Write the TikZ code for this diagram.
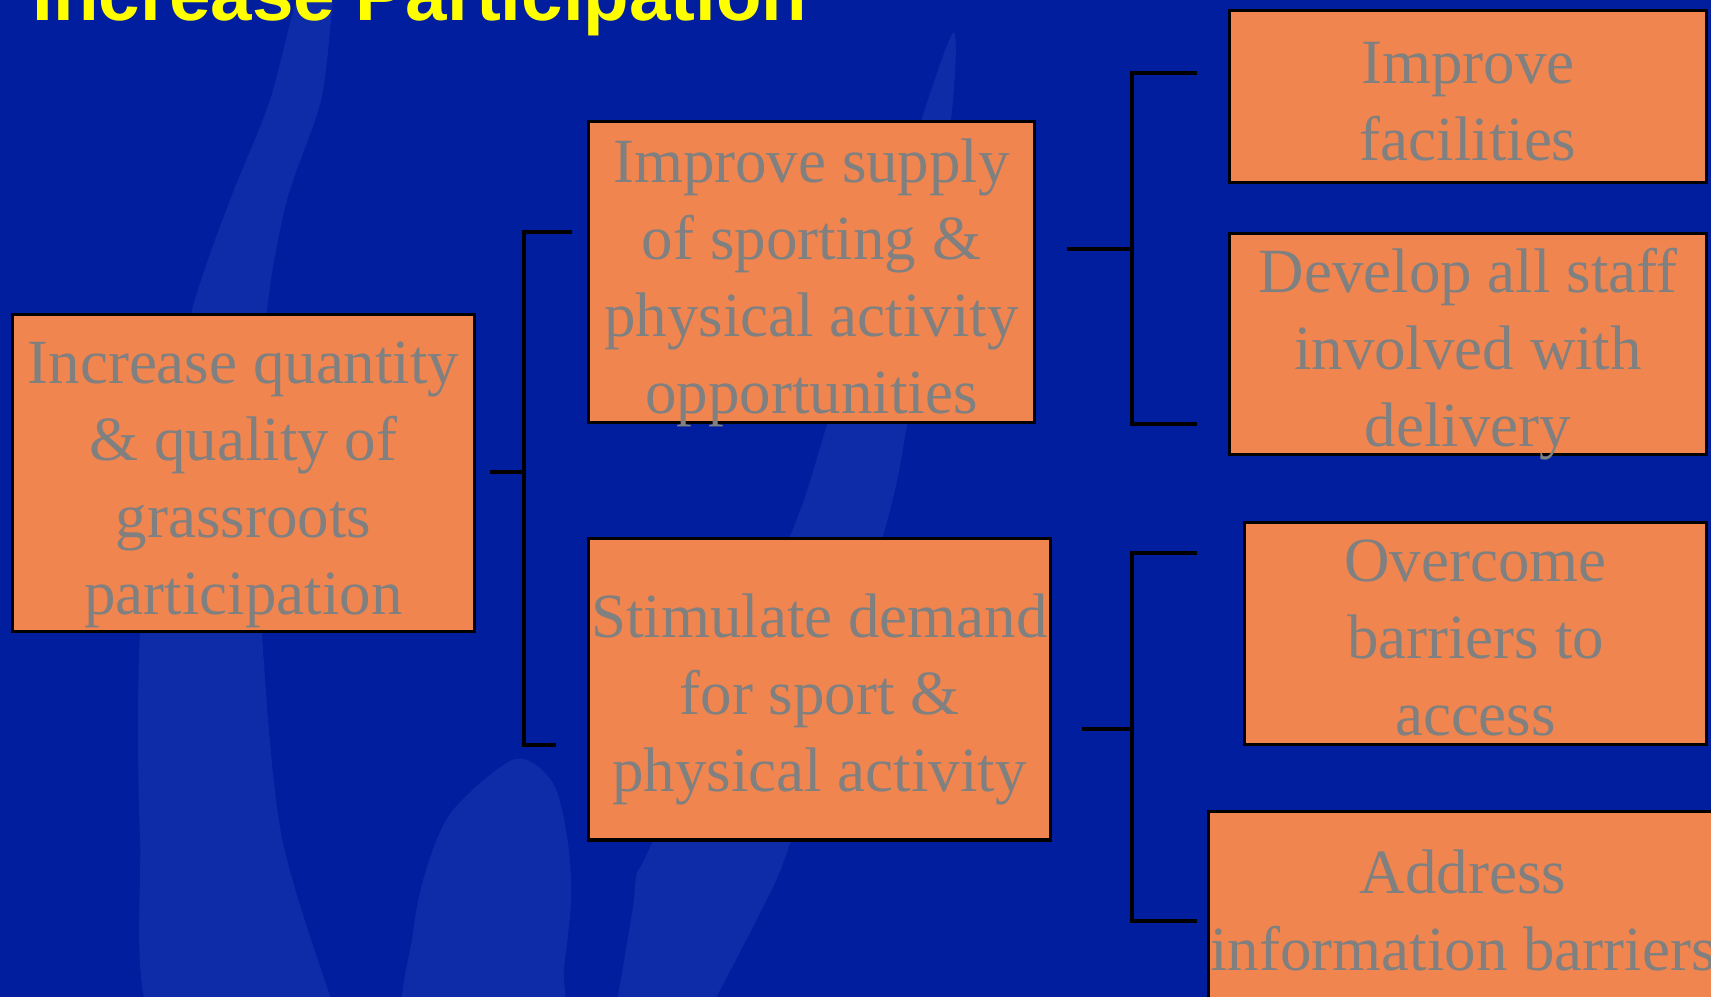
\documentclass[tikz,border=0pt]{standalone}
\usepackage{fontspec}
\setmainfont{Liberation Serif}
\newfontfamily\titlefont{Liberation Sans}
\usetikzlibrary{positioning}
\definecolor{slidebg}{RGB}{0,30,158}
\definecolor{swirlblue}{RGB}{14,44,168}
\definecolor{boxorange}{RGB}{240,133,80}
\definecolor{boxtext}{RGB}{128,128,128}
\definecolor{titleyellow}{RGB}{255,255,0}

\begin{document}
\begin{tikzpicture}[
    x=0.01cm, y=-0.01cm,
    goal/.style={rectangle, draw=black, line width=0.9pt, fill=boxorange, text=boxtext,
      inner sep=0pt, align=center, font=\fontsize{17.9}{21.9}\selectfont, text depth=0pt},
    twolines/.style={text height=1.28cm},
    threelines/.style={text height=2.05cm},
    fourlines/.style={text height=2.82cm},
    link/.style={draw=black, line width=0.9pt},
    swirl/.style={fill=swirlblue}
]
    % Slide background
    \useasboundingbox (0,0) rectangle (1711,996);
    \fill[slidebg] (-20,-20) rectangle (1731,1016);
    \fill[swirl] plot[smooth cycle, tension=0.5] coordinates {(306,-30) (337,-30) (333,0) (321,100) (287,200)
      (267,310) (258,470) (262,633) (281,833) (330,996) (345,1030) (158,1030) (140,833) (140,633)
      (160,460) (192,310) (230,200) (270,100)};
    \fill[swirl] plot[smooth cycle, tension=0.5] coordinates {(515,759) (553,783) (568,843) (571,900)
      (564,967) (553,1030) (410,1030) (413,933) (427,867) (453,810)};
    \fill[swirl] plot[smooth cycle, tension=0.4] coordinates {(954,32) (951,119) (907,425) (883,536)
      (790,843) (763,907) (717,996) (700,1030) (612,1030) (618,996) (633,907) (637,873) (652,843)
      (790,536) (827,425) (923,115)};

    % Title
    \node[anchor=base west, inner sep=0pt, text=titleyellow,
      font=\titlefont\bfseries\fontsize{21.2}{25}\selectfont] (title) at (32,20) {Increase Participation};

    % Goals
    \node[goal, fourlines, minimum width=4.62cm, minimum height=3.17cm] (quantity) at (243.5,473)
      {Increase quantity\\ \& quality of\\ grassroots\\ participation};
    \node[goal, fourlines, minimum width=4.46cm, minimum height=3.01cm] (supply) at (811.5,272)
      {Improve supply\\ of sporting \&\\ physical activity\\ opportunities};
    \node[goal, threelines, minimum width=4.62cm, minimum height=3.01cm, below=1.13cm of supply.south west,
      anchor=north west] (demand) {Stimulate demand\\ for sport \&\\ physical activity};

    % Actions
    \node[goal, twolines, minimum width=4.77cm, minimum height=1.72cm] (facilities) at (1468,96.5)
      {Improve\\ facilities};
    \node[goal, threelines, minimum width=4.77cm, minimum height=2.21cm, below=0.48cm of facilities] (staff)
      {Develop all staff\\ involved with\\ delivery};
    \node[goal, threelines, minimum width=4.62cm, minimum height=2.22cm, below=0.64cm of staff.south east,
      anchor=north east] (barriers) {Overcome\\ barriers to\\ access};
    \node[goal, twolines, minimum width=5.09cm, minimum height=1.90cm, below=0.64cm of barriers.south west,
      anchor=north west, xshift=-0.36cm] (info) {Address\\ information barriers};

    % Brackets
    \coordinate (quantityfork) at (524,472);
    \coordinate (quantityup) at (572,232);
    \coordinate (quantitydn) at (556,745);
    \draw[link] ([xshift=0.14cm]quantity.east |- quantityfork) -- (quantityfork);
    \draw[link] (quantityup) -- (quantityup -| quantityfork) -- (quantitydn -| quantityfork) -- (quantitydn);

    \coordinate (supplyfork) at (1132,249);
    \coordinate (supplyup) at (1197,73);
    \coordinate (supplydn) at (1197,424);
    \draw[link] ([xshift=0.31cm]supply.east |- supplyfork) -- (supplyfork);
    \draw[link] (supplyup) -- (supplyup -| supplyfork) -- (supplydn -| supplyfork) -- (supplydn);

    \coordinate (demandfork) at (1132,729);
    \coordinate (demandup) at (1197,553);
    \coordinate (demanddn) at (1197,921);
    \draw[link] ([xshift=0.30cm]demand.east |- demandfork) -- (demandfork);
    \draw[link] (demandup) -- (demandup -| demandfork) -- (demanddn -| demandfork) -- (demanddn);

\end{tikzpicture}
\end{document}
